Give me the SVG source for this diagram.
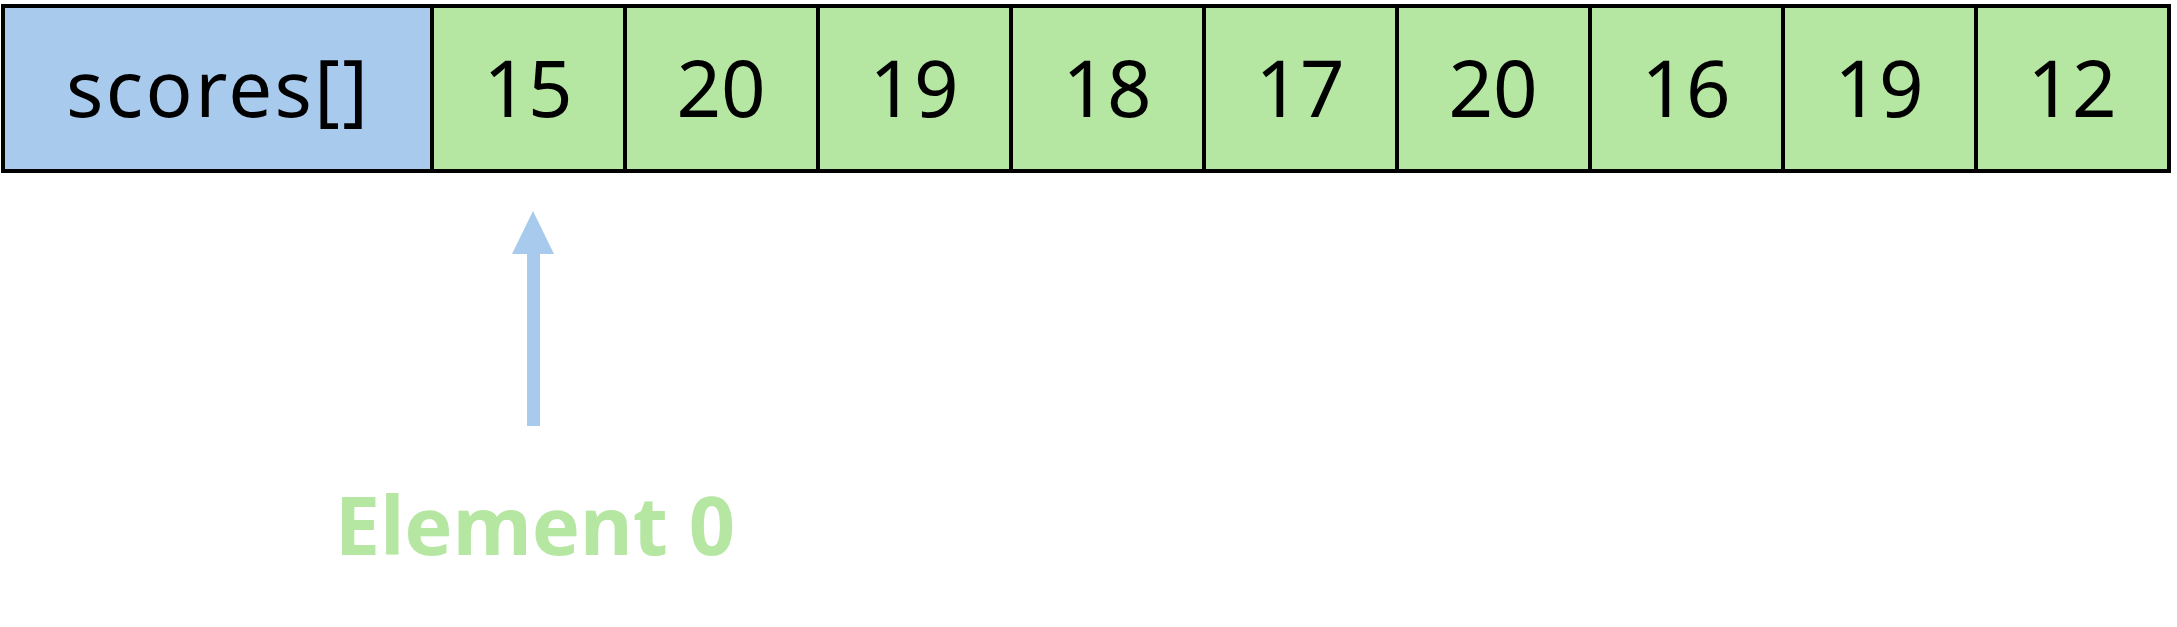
<svg xmlns="http://www.w3.org/2000/svg" width="2177" height="627" viewBox="0 0 2177 627">
<style>
.cell{stroke:#000;stroke-width:4}
.name{fill:#A8CAEC}
.val{fill:#B5E6A2}
.t{font-family:"Noto Sans","Open Sans","DejaVu Sans",sans-serif;font-size:78px;fill:#000;text-anchor:middle}
.lbl{font-family:"Noto Sans","Open Sans","DejaVu Sans",sans-serif;font-size:81px;font-weight:bold;fill:#B5E6A2;text-anchor:middle}
</style>
<rect width="2177" height="627" fill="#fff"/>
<g id="array">
<g id="cell-name"><rect class="cell name" x="3" y="6" width="429" height="165"/><text class="t" x="217" y="117" textLength="302" lengthAdjust="spacing">scores[]</text></g>
<g id="cell-0"><rect class="cell val" x="432" y="6" width="193" height="165"/><text class="t" x="528" y="117">15</text></g>
<g id="cell-1"><rect class="cell val" x="625" y="6" width="193" height="165"/><text class="t" x="721" y="117">20</text></g>
<g id="cell-2"><rect class="cell val" x="818" y="6" width="193" height="165"/><text class="t" x="914" y="117">19</text></g>
<g id="cell-3"><rect class="cell val" x="1011" y="6" width="193" height="165"/><text class="t" x="1107" y="117">18</text></g>
<g id="cell-4"><rect class="cell val" x="1204" y="6" width="193" height="165"/><text class="t" x="1300" y="117">17</text></g>
<g id="cell-5"><rect class="cell val" x="1397" y="6" width="193" height="165"/><text class="t" x="1493" y="117">20</text></g>
<g id="cell-6"><rect class="cell val" x="1590" y="6" width="193" height="165"/><text class="t" x="1686" y="117">16</text></g>
<g id="cell-7"><rect class="cell val" x="1783" y="6" width="193" height="165"/><text class="t" x="1879" y="117">19</text></g>
<g id="cell-8"><rect class="cell val" x="1976" y="6" width="193" height="165"/><text class="t" x="2072" y="117">12</text></g>
</g>
<g id="connectors">
<rect x="527" y="252" width="13" height="174" fill="#A8CAEC"/>
<polygon points="533,211 512,254 554,254" fill="#A8CAEC"/>
</g>
<g id="label-element0">
<text class="lbl" x="535" y="555">Element 0</text>
</g>
</svg>
